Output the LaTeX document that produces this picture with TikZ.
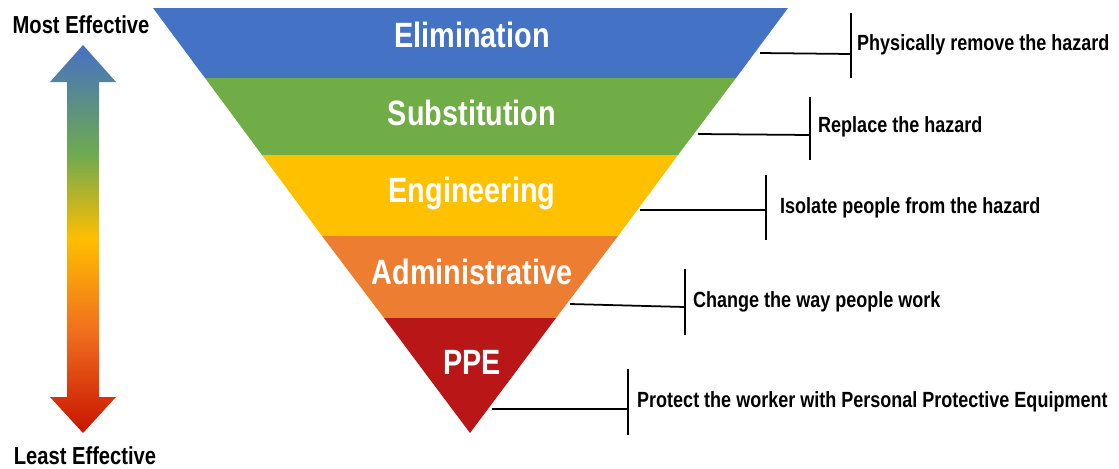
\documentclass[tikz,border=0pt]{standalone}
\usepackage{fontspec}
\setmainfont{Liberation Sans}[FakeStretch=0.82]
\usepackage{tikz}

\definecolor{elimblue}{RGB}{68,114,196}
\definecolor{subgreen}{RGB}{112,173,71}
\definecolor{enggold}{RGB}{255,192,0}
\definecolor{admorange}{RGB}{237,125,49}
\definecolor{ppered}{RGB}{185,22,24}
\definecolor{arrblue}{RGB}{70,112,196}
\definecolor{arrgreen}{RGB}{110,170,80}
\definecolor{arryellow}{RGB}{255,190,0}
\definecolor{arrorange}{RGB}{240,110,30}
\definecolor{arrred}{RGB}{200,20,0}

\pgfdeclareverticalshading{effshade}{100bp}{color(0bp)=(arrred); color(25bp)=(arrred); color(38bp)=(arrorange); color(50bp)=(arryellow); color(61bp)=(arrgreen); color(75bp)=(arrblue); color(100bp)=(arrblue)}

\begin{document}
\begin{tikzpicture}[x=0.02cm,y=-0.02cm,
    lvl/.style={text=white,font=\fontsize{20}{23}\selectfont\bfseries},
    note/.style={anchor=west,font=\fontsize{12.5}{15}\selectfont\bfseries},
    side/.style={font=\fontsize{14}{16}\selectfont\bfseries}]
    \useasboundingbox (0,0) rectangle (1119,468);

    % inverted pyramid
    \fill[elimblue] (153,8) -- (788,8) -- (736,78) -- (205,78) -- cycle;
    \fill[subgreen] (205,78) -- (736,78) -- (678,155) -- (262,155) -- cycle;
    \fill[enggold] (262,155) -- (678,155) -- (618,236) -- (322,236) -- cycle;
    \fill[admorange] (322,236) -- (618,236) -- (556,318) -- (384,318) -- cycle;
    \fill[ppered] (384,318) -- (556,318) -- (470,433) -- cycle;

    \node[lvl] (elim) at (472,35) {Elimination};
    \node[lvl] (subst) at (472,113) {Substitution};
    \node[lvl] (eng) at (472,193) {Engineering};
    \node[lvl] (adm) at (472,272) {Administrative};
    \node[lvl] (ppe) at (472,362) {PPE};

    % effectiveness arrow
    \shade[shading=effshade] (83,45) -- (116,82) -- (99,82) -- (99,397) -- (116,397)
        -- (83,433) -- (50,397) -- (67,397) -- (67,82) -- (50,82) -- cycle;
    \node[side] (most) at (81,25) {Most Effective};
    \node[side] (least) at (85,456) {Least Effective};

    % notes
    \coordinate (e1) at (760,53);
    \coordinate (b1) at (851,54);
    \draw[line width=1pt] (e1) -- (b1);
    \draw[line width=1pt] (851,13) -- (851,78);
    \node[note] (n1) at (851,45) {Physically remove the hazard};

    \coordinate (e2) at (698,134);
    \coordinate (b2) at (810,135);
    \draw[line width=1pt] (e2) -- (b2);
    \draw[line width=1pt] (810,97) -- (810,160);
    \node[note] (n2) at (812,127) {Replace the hazard};

    \coordinate (e3) at (640,210);
    \coordinate (b3) at (766,210);
    \draw[line width=1pt] (e3) -- (b3);
    \draw[line width=1pt] (766,175) -- (766,240);
    \node[note] (n3) at (774,208) {Isolate people from the hazard};

    \coordinate (e4) at (570,304);
    \coordinate (b4) at (685,307);
    \draw[line width=1pt] (e4) -- (b4);
    \draw[line width=1pt] (685,269) -- (685,335);
    \node[note] (n4) at (687,302) {Change the way people work};

    \coordinate (e5) at (492,409);
    \coordinate (b5) at (628,409);
    \draw[line width=1pt] (e5) -- (b5);
    \draw[line width=1pt] (628,369) -- (628,435);
    \node[note] (n5) at (631,402) {Protect the worker with Personal Protective Equipment};
\end{tikzpicture}
\end{document}
